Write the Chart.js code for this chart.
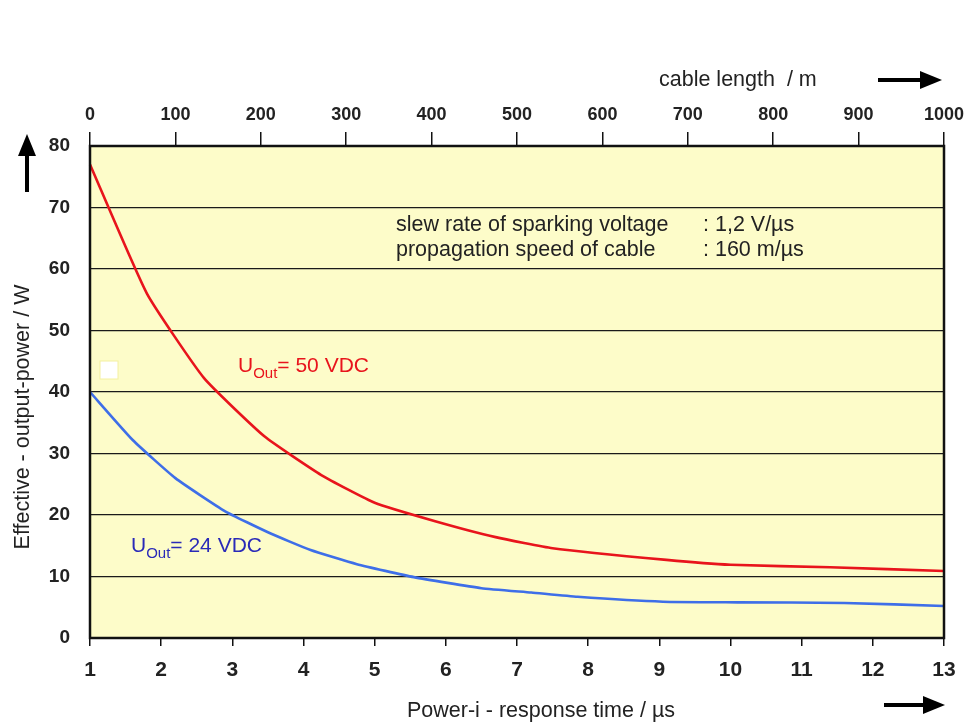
<!DOCTYPE html>
<html>
<head>
<meta charset="utf-8">
<script src="https://cdn.jsdelivr.net/npm/chart.js@4/dist/chart.umd.min.js"></script>
<style>
  html, body { margin: 0; padding: 0; background: #ffffff; }
  #wrap { width: 966px; height: 722px; position: relative; }
</style>
</head>
<body>
<div id="wrap"><canvas id="c" width="966" height="722"></canvas></div>
<script>
// ---- data ----
const timeTicks = [1, 2, 3, 4, 5, 6, 7, 8, 9, 10, 11, 12, 13];          // µs
const cableTicks = [0, 100, 200, 300, 400, 500, 600, 700, 800, 900, 1000]; // m
const powerTicks = [0, 10, 20, 30, 40, 50, 60, 70, 80];                 // W

const t50 = [1, 1.8, 2.6, 3.45, 4.25, 5.0, 5.85, 6.7, 7.5, 9.1, 10.0, 11.4, 13];
const p50 = [77, 56, 42.3, 32.8, 26.5, 22, 19, 16.4, 14.6, 12.7, 11.9, 11.5, 10.9];

const t24 = [1, 1.6, 2.2, 2.9, 3.5, 4.1, 4.75, 5.55, 6.5, 7.2, 7.85, 9.05, 10.1, 11.6, 13];
const p24 = [40, 32.2, 26, 20.6, 17.2, 14.3, 12, 9.9, 8.1, 7.4, 6.7, 5.9, 5.8, 5.7, 5.2];

const label50 = { main: 'U', sub: 'Out', rest: '= 50 VDC' };
const label24 = { main: 'U', sub: 'Out', rest: '= 24 VDC' };
const noteLines = [
  ['slew rate of sparking voltage', ': 1,2 V/\u00b5s'],
  ['propagation speed of cable', ': 160 m/\u00b5s']
];
const xTitle = 'Power-i - response time / \u00b5s';
const x2Title = 'cable length  / m';
const yTitle = 'Effective - output-power / W';

// ---- helpers ----
const FONT = '"Liberation Sans", Arial, sans-serif';
const TXT = '#222222';
function pts(xs, ys) { return xs.map((x, i) => ({ x: x, y: ys[i] })); }

function arrow(ctx, x1, y1, x2, y2, head, halfW) {
  const ang = Math.atan2(y2 - y1, x2 - x1);
  const bx = x2 - head * Math.cos(ang), by = y2 - head * Math.sin(ang);
  ctx.save();
  ctx.strokeStyle = '#000'; ctx.fillStyle = '#000'; ctx.lineWidth = 4;
  ctx.beginPath(); ctx.moveTo(x1, y1); ctx.lineTo(bx, by); ctx.stroke();
  ctx.beginPath();
  ctx.moveTo(x2, y2);
  ctx.lineTo(bx + halfW * Math.sin(ang), by - halfW * Math.cos(ang));
  ctx.lineTo(bx - halfW * Math.sin(ang), by + halfW * Math.cos(ang));
  ctx.closePath(); ctx.fill();
  ctx.restore();
}

function subLabel(ctx, lab, x, y, color) {
  ctx.save();
  ctx.fillStyle = color;
  ctx.textBaseline = 'alphabetic';
  ctx.textAlign = 'left';
  ctx.font = '21px ' + FONT;
  ctx.fillText(lab.main, x, y);
  let w = ctx.measureText(lab.main).width;
  ctx.font = '15px ' + FONT;
  ctx.fillText(lab.sub, x + w, y + 6);
  w += ctx.measureText(lab.sub).width;
  ctx.font = '21px ' + FONT;
  ctx.fillText(lab.rest, x + w, y);
  ctx.restore();
}

const bgPlugin = {
  id: 'bg',
  beforeDraw(chart) {
    const { ctx, chartArea: a } = chart;
    ctx.save();
    ctx.fillStyle = '#fdfcc9';
    ctx.fillRect(a.left, a.top, a.right - a.left, a.bottom - a.top);
    ctx.restore();
  },
  afterDatasetsDraw(chart) {
    const { ctx, chartArea: a } = chart;
    ctx.save();
    // frame
    ctx.strokeStyle = '#111';
    ctx.lineWidth = 2.5;
    ctx.strokeRect(a.left, a.top, a.right - a.left, a.bottom - a.top);

    // notes
    ctx.fillStyle = TXT;
    ctx.font = '21.5px ' + FONT;
    ctx.textBaseline = 'middle';
    ctx.textAlign = 'left';
    noteLines.forEach((ln, i) => {
      const y = 225 + i * 25;
      ctx.fillText(ln[0], 396, y);
      ctx.fillText(ln[1], 703, y);
    });

    // curve labels
    subLabel(ctx, label50, 238, 372, '#e8141c');
    subLabel(ctx, label24, 131, 552, '#2a2ab8');

    // small white square
    ctx.fillStyle = '#ffffff';
    ctx.fillRect(100, 361, 18, 18);
    ctx.strokeStyle = '#f4f0a0'; ctx.lineWidth = 1;
    ctx.strokeRect(100, 361, 18, 18);

    // titles
    ctx.fillStyle = TXT;
    ctx.font = '21.5px ' + FONT;
    ctx.textAlign = 'center';
    ctx.fillText(xTitle, 541, 711);
    ctx.textAlign = 'left';
    ctx.fillText(x2Title, 659, 80);
    ctx.save();
    ctx.translate(23, 417);
    ctx.rotate(-Math.PI / 2);
    ctx.textAlign = 'center';
    ctx.fillText(yTitle, 0, 0);
    ctx.restore();

    // arrows
    arrow(ctx, 878, 80, 942, 80, 22, 9);
    arrow(ctx, 884, 705, 945, 705, 22, 9);
    arrow(ctx, 27, 192, 27, 134, 22, 9);
    ctx.restore();
  }
};

function noPad(s) { s.paddingLeft = 0; s.paddingRight = 0; s.paddingTop = 0; s.paddingBottom = 0; }

const ctx = document.getElementById('c').getContext('2d');
new Chart(ctx, {
  type: 'line',
  data: {
    datasets: [
      {
        label: 'UOut = 50 VDC',
        data: pts(t50, p50),
        borderColor: '#e8141c',
        borderWidth: 2.6,
        pointRadius: 0,
        tension: 0.15,
        xAxisID: 'x', yAxisID: 'y'
      },
      {
        label: 'UOut = 24 VDC',
        data: pts(t24, p24),
        borderColor: '#3e6ee8',
        borderWidth: 2.6,
        pointRadius: 0,
        tension: 0.15,
        xAxisID: 'x', yAxisID: 'y'
      }
    ]
  },
  options: {
    responsive: false,
    animation: false,
    clip: false,
    layout: { padding: { left: 0, right: 22, top: 0, bottom: 0 }, autoPadding: false },
    plugins: { legend: { display: false }, tooltip: { enabled: false } },
    scales: {
      x: {
        type: 'linear', position: 'bottom',
        min: timeTicks[0], max: timeTicks[timeTicks.length - 1],
        afterBuildTicks(s) { s.ticks = timeTicks.map(v => ({ value: v })); },
        afterFit(s) { s.height = 84; noPad(s); },
        border: { display: false },
        grid: { drawOnChartArea: false, drawTicks: true, tickLength: 8, color: '#111', lineWidth: 1.5 },
        ticks: { padding: 12, color: TXT, font: { family: FONT, size: 21, weight: 'bold' }, maxRotation: 0,
                 callback: v => String(v) }
      },
      x2: {
        type: 'linear', position: 'top',
        min: cableTicks[0], max: cableTicks[cableTicks.length - 1],
        afterBuildTicks(s) { s.ticks = cableTicks.map(v => ({ value: v })); },
        afterFit(s) { s.height = 146; noPad(s); },
        border: { display: false },
        grid: { drawOnChartArea: false, drawTicks: true, tickLength: 14, color: '#111', lineWidth: 1.5 },
        ticks: { padding: 6, color: TXT, font: { family: FONT, size: 18, weight: 'bold' }, maxRotation: 0,
                 callback: v => String(v) }
      },
      y: {
        type: 'linear', position: 'left',
        min: powerTicks[0], max: powerTicks[powerTicks.length - 1],
        afterBuildTicks(s) { s.ticks = powerTicks.map(v => ({ value: v })); },
        afterFit(s) { s.width = 90; noPad(s); },
        border: { display: false },
        grid: { drawOnChartArea: true, drawTicks: false, color: '#1a1a1a', lineWidth: 1.3 },
        ticks: { padding: 20, color: TXT, font: { family: FONT, size: 19, weight: 'bold' },
                 callback: v => String(v) }
      }
    }
  },
  plugins: [bgPlugin]
});
</script>
</body>
</html>
